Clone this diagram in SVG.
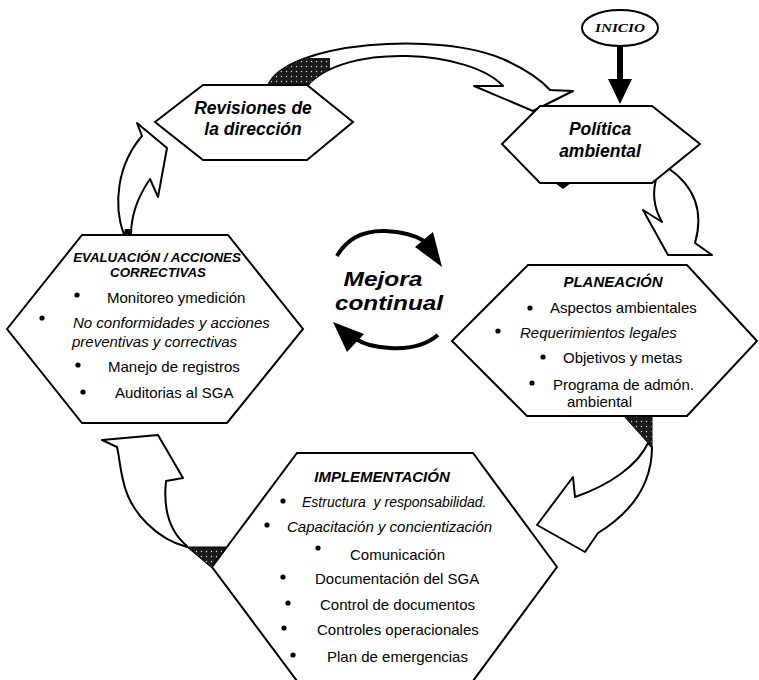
<svg xmlns="http://www.w3.org/2000/svg" width="759" height="680" viewBox="0 0 759 680">
<style>
.hex{fill:#fff;stroke:#000;stroke-width:2;stroke-linejoin:miter}
.arr{fill:#fff;stroke:#000;stroke-width:2;stroke-linejoin:round}
.dark{fill:url(#stip);stroke:#000;stroke-width:1}
.t{font-family:"Liberation Sans",Arial,sans-serif;font-size:15px;fill:#000}
.i{font-style:italic}
.bi{font-weight:bold;font-style:italic}
.c{text-anchor:middle}
.big{font-size:17.5px}
.h13{font-size:13.3px}
.s14{font-size:14px}
.huge{font-size:21px}
.dot{fill:#000}
</style>
<defs>
<pattern id="stip" width="5" height="5" patternUnits="userSpaceOnUse">
<rect width="5" height="5" fill="#1a1a1a"/>
<circle cx="1.5" cy="1.5" r="0.7" fill="#ddd"/>
</pattern>
<clipPath id="bandclip">
<path d="M268,86 C284,42 440,30 505,60 C525,69 540,79 550,90 L573,91 L533,111 L474,86 L503,86 C470,50 345,42 307,86 Z"/>
</clipPath>
</defs>

<g id="connectors">
<!-- Revisiones -> Politica -->
<path class="arr" d="M268,86 C284,42 440,30 505,60 C525,69 540,79 550,90 L573,91 L533,111 L474,86 L503,86 C470,50 345,42 307,86 Z"/>
<rect x="260" y="58" width="70" height="30" fill="url(#stip)" clip-path="url(#bandclip)"/>
<!-- Politica -> Planeacion -->
<path class="arr" d="M657,176 C651,195 655,210 662,222 L643,210 L668,255 L712,255 L695,243 C703,215 697,188 668,168 Z"/>
<polygon points="555,183 571,183 563,189" fill="#000"/>
<!-- Planeacion -> Implementacion -->
<path class="arr" d="M652,447 C652,485 632,512 598,533 L585,552 L537,525 L573,477 L575,497 C610,485 638,465 648,443 Z"/>
<polygon class="dark" points="623,415 652,415 652,447 648,443"/>
<!-- Implementacion -> Evaluacion -->
<path class="arr" d="M187,547 C160,540 130,515 123,480 C120,468 119,455 117,447 L102,440 L158,435 L183,478 L166,481 C163,510 170,532 187,546 Z"/>
<polygon class="dark" points="187,547 227,547 212,568"/>
<!-- Evaluacion -> Revisiones -->
<path class="arr" d="M124,235 C113,205 117,165 142,136 L137,123 L167,148 L158,197 L150,179 C139,195 131,215 131,235 Z"/>
<polygon points="123,236 132,236 130,229 125,229" fill="#000"/>
<!-- INICIO -> Politica -->
<line x1="620" y1="46" x2="620" y2="82" stroke="#000" stroke-width="6"/>
<polygon points="608,79 632,79 620,104" fill="#000"/>
<!-- Mejora continua circular arrows -->
<path d="M337,256 Q352,230 385,231 Q410,232 424,241" fill="none" stroke="#000" stroke-width="4"/>
<polygon points="415,247 433,232 442,267" fill="#000"/>
<path d="M438,335 Q420,350 390,348 Q368,347 356,339" fill="none" stroke="#000" stroke-width="4"/>
<polygon points="333,322 364,334 347,352" fill="#000"/>
</g>

<g id="inicio">
<ellipse cx="620" cy="28" rx="38" ry="18" fill="#fff" stroke="#000" stroke-width="2"/>
<text x="620" y="32" font-family="'Liberation Serif','Times New Roman',serif" font-size="12" font-weight="bold" font-style="italic" text-anchor="middle" textLength="50" lengthAdjust="spacingAndGlyphs">INICIO</text>
</g>

<g id="revisiones">
<polygon class="hex" points="155,122 203,85 307,85 353,122 307,160 203,160"/>
<text class="t bi c big" x="253" y="114">Revisiones de</text>
<text class="t bi c big" x="253" y="135">la dirección</text>
</g>

<g id="politica">
<polygon class="hex" points="502,144 540,106 652,106 700,144 652,183 540,183"/>
<text class="t bi c big" x="600" y="135">Política</text>
<text class="t bi c big" x="600" y="157">ambiental</text>
</g>

<g id="evaluacion">
<polygon class="hex" points="7,329 82,235 228,235 303,329 227,423 82,423"/>
<text class="t bi c h13" x="157" y="262">EVALUACIÓN / ACCIONES</text>
<text class="t bi c h13" x="158" y="277">CORRECTIVAS</text>
<circle class="dot" cx="77" cy="295" r="2.6"/>
<text class="t" x="107" y="303">Monitoreo ymedición</text>
<circle class="dot" cx="42" cy="318" r="2.6"/>
<text class="t i" x="73" y="328">No conformidades y acciones</text>
<text class="t i" x="72" y="347">preventivas y correctivas</text>
<circle class="dot" cx="78" cy="365" r="2.6"/>
<text class="t" x="108" y="372">Manejo de registros</text>
<circle class="dot" cx="83" cy="392" r="2.6"/>
<text class="t" x="115" y="398">Auditorias al SGA</text>
</g>

<g id="planeacion">
<polygon class="hex" points="452,341 528,265 687,265 757,341 687,416 527,416"/>
<text class="t bi c" x="613" y="287">PLANEACIÓN</text>
<circle class="dot" cx="530" cy="308" r="2.6"/>
<text class="t" x="550" y="313">Aspectos ambientales</text>
<circle class="dot" cx="498" cy="331" r="2.6"/>
<text class="t i" x="520" y="338">Requerimientos legales</text>
<circle class="dot" cx="543" cy="357" r="2.6"/>
<text class="t" x="563" y="363">Objetivos y metas</text>
<circle class="dot" cx="532" cy="383" r="2.6"/>
<text class="t" x="553" y="390">Programa de admón.</text>
<text class="t" x="567" y="407">ambiental</text>
</g>

<g id="implementacion">
<polygon class="hex" points="212,567 297,453 473,453 557,567 473,681 297,681"/>
<text class="t bi c" x="382" y="482">IMPLEMENTACIÓN</text>
<circle class="dot" cx="283" cy="501" r="2.6"/>
<text class="t i s14" x="302" y="507">Estructura&#160; y responsabilidad.</text>
<circle class="dot" cx="267" cy="525" r="2.6"/>
<text class="t i" x="287" y="532">Capacitación y concientización</text>
<circle class="dot" cx="318" cy="548" r="2.6"/>
<text class="t" x="350" y="560">Comunicación</text>
<circle class="dot" cx="283" cy="577" r="2.6"/>
<text class="t" x="315" y="584">Documentación del SGA</text>
<circle class="dot" cx="288" cy="603" r="2.6"/>
<text class="t" x="320" y="610">Control de documentos</text>
<circle class="dot" cx="284" cy="628" r="2.6"/>
<text class="t" x="317" y="635">Controles operacionales</text>
<circle class="dot" cx="293" cy="655" r="2.6"/>
<text class="t" x="327" y="662">Plan de emergencias</text>
</g>

<g id="mejora">
<text class="t bi c huge" x="383" y="286" textLength="79" lengthAdjust="spacingAndGlyphs">Mejora</text>
<text class="t bi c huge" x="389" y="310" textLength="108" lengthAdjust="spacingAndGlyphs">continual</text>
</g>
</svg>
